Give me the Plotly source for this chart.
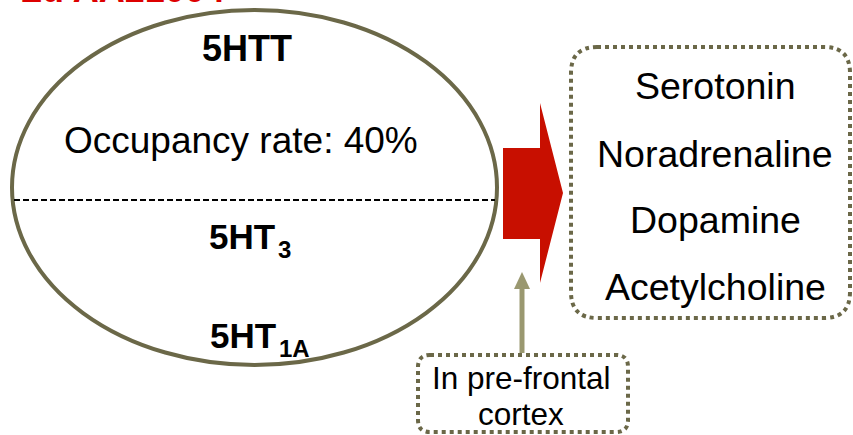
import plotly.graph_objects as go

# ---- content ----
title_text = "Lu AA21004"
top_label = "5HTT"
occupancy_label = "Occupancy rate: 40%"
receptor_bases = ["5HT", "5HT"]
receptor_subs = ["3", "1A"]
neurotransmitters = ["Serotonin", "Noradrenaline", "Dopamine", "Acetylcholine"]
region_lines = ["In pre-frontal", "cortex"]

# ---- layout constants (pixels) ----
W, H = 853, 435
FONT = "Liberation Sans, Arial, sans-serif"
OLIVE = "#6b6848"
KHAKI = "#9a9870"
RED = "#c80f00"
TITLE_RED = "#dd0000"

fig = go.Figure()
fig.add_trace(go.Scatter(x=[0, W], y=[0, H], mode="markers",
                         marker=dict(opacity=0), hoverinfo="skip", showlegend=False))

def rrect(x0, y0, x1, y1, r):
    return (f"M {x0+r} {y0} L {x1-r} {y0} Q {x1} {y0} {x1} {y0+r} "
            f"L {x1} {y1-r} Q {x1} {y1} {x1-r} {y1} L {x0+r} {y1} "
            f"Q {x0} {y1} {x0} {y1-r} L {x0} {y0+r} Q {x0} {y0} {x0+r} {y0} Z")

shapes = [
    dict(type="circle", xref="x", yref="y", x0=12, y0=10, x1=497, y1=365,
         line=dict(color=OLIVE, width=4)),
    dict(type="line", xref="x", yref="y", x0=14, y0=200, x1=495, y1=200,
         line=dict(color="black", width=2, dash="6px,3px")),
    dict(type="path", xref="x", yref="y",
         path="M 503 148 L 540 148 L 540 103 L 563 193 L 540 283 L 540 239 L 503 239 Z",
         fillcolor=RED, line=dict(width=0)),
    dict(type="path", xref="x", yref="y", path=rrect(571, 47, 850, 318, 26),
         line=dict(color=OLIVE, width=4, dash="dot")),
    dict(type="path", xref="x", yref="y", path=rrect(418, 355, 628, 432, 12),
         line=dict(color=OLIVE, width=4, dash="dot")),
    dict(type="line", xref="x", yref="y", x0=522, y0=353, x1=522, y1=286,
         line=dict(color=KHAKI, width=5)),
    dict(type="path", xref="x", yref="y",
         path="M 514 289 L 530 289 L 522 272 Z",
         fillcolor=KHAKI, line=dict(width=0)),
]

ann = []
def txt(x, y, s, size, bold=False, color="black", xanchor="center"):
    ann.append(dict(x=x, y=y, xref="x", yref="y", text=(f"<b>{s}</b>" if bold else s),
                    showarrow=False, xanchor=xanchor, yanchor="middle",
                    font=dict(family=FONT, size=size, color=color)))

# title, mostly cut off above the top edge (paper coords so it is not hidden)
ann.append(dict(x=18 / W, y=1 + 11 / H, xref="paper", yref="paper",
                text=f"<b>{title_text}</b>", showarrow=False,
                xanchor="left", yanchor="middle",
                font=dict(family=FONT, size=36, color=TITLE_RED)))

txt(247, 48, top_label, 36, bold=True)
txt(241, 140, occupancy_label, 37)
rec_pos = [(207, 236, 249), (208, 335, 348)]
for (bx, by, sy), base, sub in zip(rec_pos, receptor_bases, receptor_subs):
    txt(bx, by, base, 35, bold=True, xanchor="left")
    txt(bx + 69, sy, sub, 24, bold=True, xanchor="left")

for yy, name in zip([86, 153.5, 220, 287], neurotransmitters):
    txt(715, yy, name, 37.5)

for yy, line in zip([378, 414], region_lines):
    txt(521, yy, line, 31.5)

fig.update_layout(
    width=W, height=H, autosize=False,
    margin=dict(l=0, r=0, t=0, b=0, pad=0),
    paper_bgcolor="white", plot_bgcolor="white",
    xaxis=dict(range=[0, W], visible=False, fixedrange=True),
    yaxis=dict(range=[H, 0], visible=False, fixedrange=True),
    shapes=shapes, annotations=ann, showlegend=False,
)
fig.write_html("out.html", config={"displayModeBar": False},
               post_script="document.body.style.margin='0';document.body.style.overflow='hidden';")
